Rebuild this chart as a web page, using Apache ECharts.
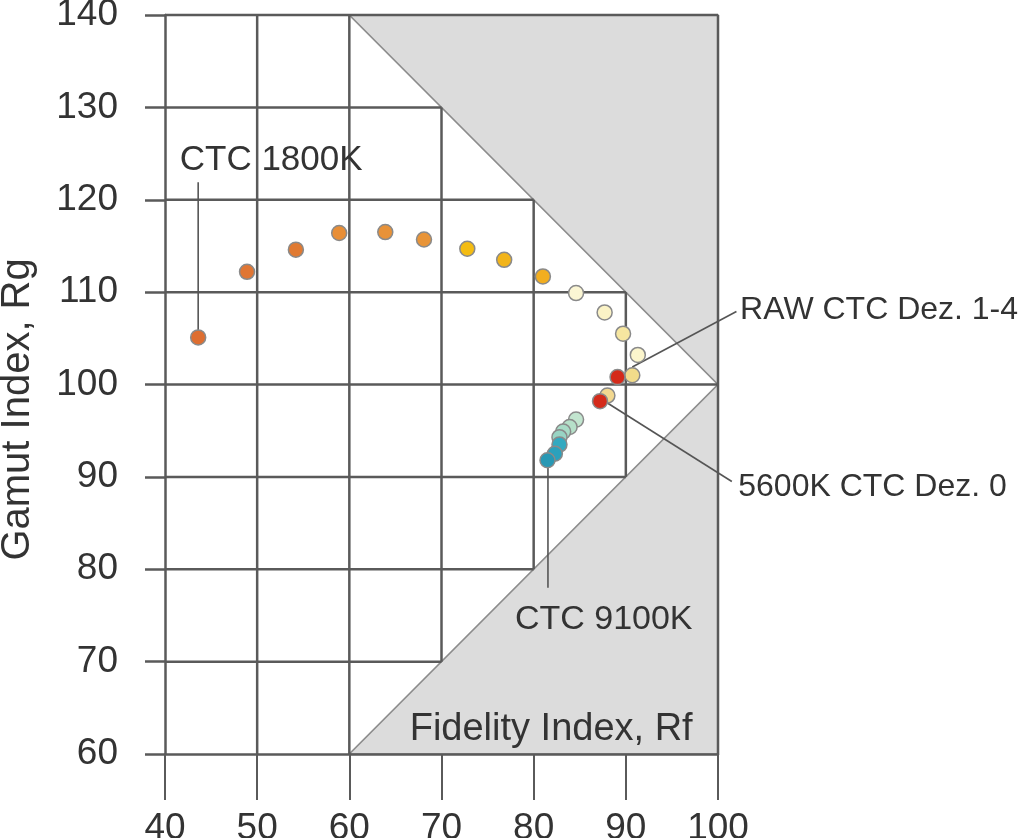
<!DOCTYPE html>
<html>
<head>
<meta charset="utf-8">
<title>Rf - Rg</title>
<script src="https://cdn.jsdelivr.net/npm/echarts@6/dist/echarts.min.js"></script>
<style>
html,body{margin:0;padding:0;background:#fff;}
#rfrg{width:1024px;height:838px;}
</style>
</head>
<body>
<div id="rfrg"></div>
<script>
// axis ticks
var rfTicks=[40,50,60,70,80,90,100];
var rgTicks=[60,70,80,90,100,110,120,130,140];

// CTC sweep 1800K ... 9100K
var sweepRf=[43.6,48.9,54.2,58.9,63.9,68.1,72.8,76.8,81.0,84.6,87.7,89.7,91.3,90.7,88.0,84.6,83.9,83.2,82.8,82.8,82.3,81.5];
var sweepRg=[105.1,112.2,114.6,116.4,116.5,115.7,114.7,113.5,111.7,109.9,107.8,105.5,103.2,101.0,98.8,96.2,95.4,94.9,94.3,93.5,92.5,91.8];
// red dots
var redRf=[89.1,87.2];
var redRg=[100.8,98.2];

var noteTexts=['CTC 1800K','RAW CTC Dez. 1-4','5600K CTC Dez. 0','CTC 9100K','Fidelity Index, Rf','Gamut Index, Rg'];

// colours of the sweep dots (same order)
var sweepColors=['#de6e30','#e07634','#e07a32','#e88e36','#e89238','#e89438','#f4bc12','#f2b41a','#f2ae20',
  '#fbf6d4','#fbf3c6','#f6e6a0','#fbf5cc','#f2dc8a','#f2d890',
  '#c2e5cf','#b6e0c9','#a8dbc6','#98d4c4','#33a9c0','#2ba1bc','#2898b4'];
var redColor='#d42a1a';

var chart=echarts.init(document.getElementById('rfrg'));

var xMin=rfTicks[0], xMax=rfTicks[rfTicks.length-1];
var yMin=rgTicks[0], yMax=rgTicks[rgTicks.length-1];
var yMid=(yMin+yMax)/2;       // 100, tip of the triangles
var xTip=xMax-(yMax-yMid);    // 60

// limits of the valid area for a given Rf
function upper(rf){ return rf<=xTip ? yMax : yMax-(rf-xTip); }
function lower(rf){ return rf<=xTip ? yMin : yMin+(rf-xTip); }

// grid pieces (staircase along the diagonal)
var gridSegs=[];
rgTicks.forEach(function(rg){
  if(rg==yMin) return;
  var end = (rg==yMax) ? xMax : xMax-Math.abs(rg-yMid);
  gridSegs.push([xMin,rg,end,rg]);
});
rfTicks.forEach(function(rf){
  if(rf==xMin) return;
  if(rf==xMax){ gridSegs.push([rf,yMin,rf,yMax]); return; }
  gridSegs.push([rf,lower(rf),rf,upper(rf)]);
});

var greyTris=[
  [xTip,yMax,xMax,yMax,xMax,yMid],
  [xTip,yMin,xMax,yMin,xMax,yMid]
];

// leader lines
var leaders=[
  [sweepRf[0],121.9,sweepRf[0],sweepRg[0]],
  [102.0,107.9,90.7,101.9],
  [101.5,89.5,88.0,98.0],
  [81.55,91.0,81.55,78.0]
];
// text anchors
var noteAt=[[41.6,124.3],[102.4,108.1],[102.2,88.9],[87.6,74.5],[81.9,62.6],[24.1,97.3]];
var noteSize=[35,32,32,34,38,40];
var noteAlign=['left','left','left','center','center','center'];

var fontFam='"Liberation Sans", Arial, Helvetica, sans-serif';

function segItem(stroke,width){
  return function(params,api){
    var a=api.coord([api.value(0),api.value(1)]);
    var b=api.coord([api.value(2),api.value(3)]);
    return {type:'line',shape:{x1:a[0],y1:a[1],x2:b[0],y2:b[1]},style:{stroke:stroke,lineWidth:width}};
  };
}

chart.setOption({
  animation:false,
  grid:{left:165,right:306,top:15,bottom:84,containLabel:false,outerBoundsMode:'none'},
  xAxis:{
    type:'value',min:xMin,max:xMax,interval:10,z:6,
    axisLine:{lineStyle:{color:'#5a5a5a',width:2.5}},
    axisTick:{length:46,lineStyle:{color:'#5a5a5a',width:2}},
    splitLine:{show:false},
    axisLabel:{fontSize:37,color:'#333',fontFamily:fontFam,margin:56}
  },
  yAxis:{
    type:'value',min:yMin,max:yMax,interval:10,z:6,
    axisLine:{lineStyle:{color:'#5a5a5a',width:2.5}},
    axisTick:{length:20,lineStyle:{color:'#5a5a5a',width:2.5}},
    splitLine:{show:false},
    axisLabel:{fontSize:37,color:'#333',fontFamily:fontFam,margin:47}
  },
  series:[
    {
      type:'custom',z:1,silent:true,
      data:greyTris,
      renderItem:function(params,api){
        var pts=[];
        for(var i=0;i<6;i+=2) pts.push(api.coord([api.value(i),api.value(i+1)]));
        return {type:'polygon',shape:{points:pts},style:{fill:'#dcdcdc',stroke:'#8c8c8c',lineWidth:1.6}};
      }
    },
    {
      type:'custom',z:2,silent:true,
      data:gridSegs,
      renderItem:segItem('#5a5a5a',2.5)
    },
    {
      type:'custom',z:3,silent:true,
      data:leaders,
      renderItem:segItem('#555',1.6)
    },
    {
      type:'scatter',z:4,symbolSize:15,
      itemStyle:{borderColor:'#8a8a8a',borderWidth:1.5,opacity:1},
      data:sweepRf.map(function(v,i){ return {value:[v,sweepRg[i]],itemStyle:{color:sweepColors[i]}}; })
    },
    {
      type:'scatter',z:5,symbolSize:15,
      itemStyle:{color:redColor,borderColor:'#8a8a8a',borderWidth:1.5,opacity:1},
      data:redRf.map(function(v,i){ return [v,redRg[i]]; })
    },
    {
      type:'custom',z:7,silent:true,
      data:noteAt,
      renderItem:function(params,api){
        var i=params.dataIndex;
        var p=api.coord([api.value(0),api.value(1)]);
        return {type:'text',x:p[0],y:p[1],rotation:(i==5?Math.PI/2:0),
          style:{text:noteTexts[i],fill:'#333',fontSize:noteSize[i],fontFamily:fontFam,
            align:noteAlign[i],verticalAlign:'middle'}};
      }
    }
  ]
});
</script>
</body>
</html>
